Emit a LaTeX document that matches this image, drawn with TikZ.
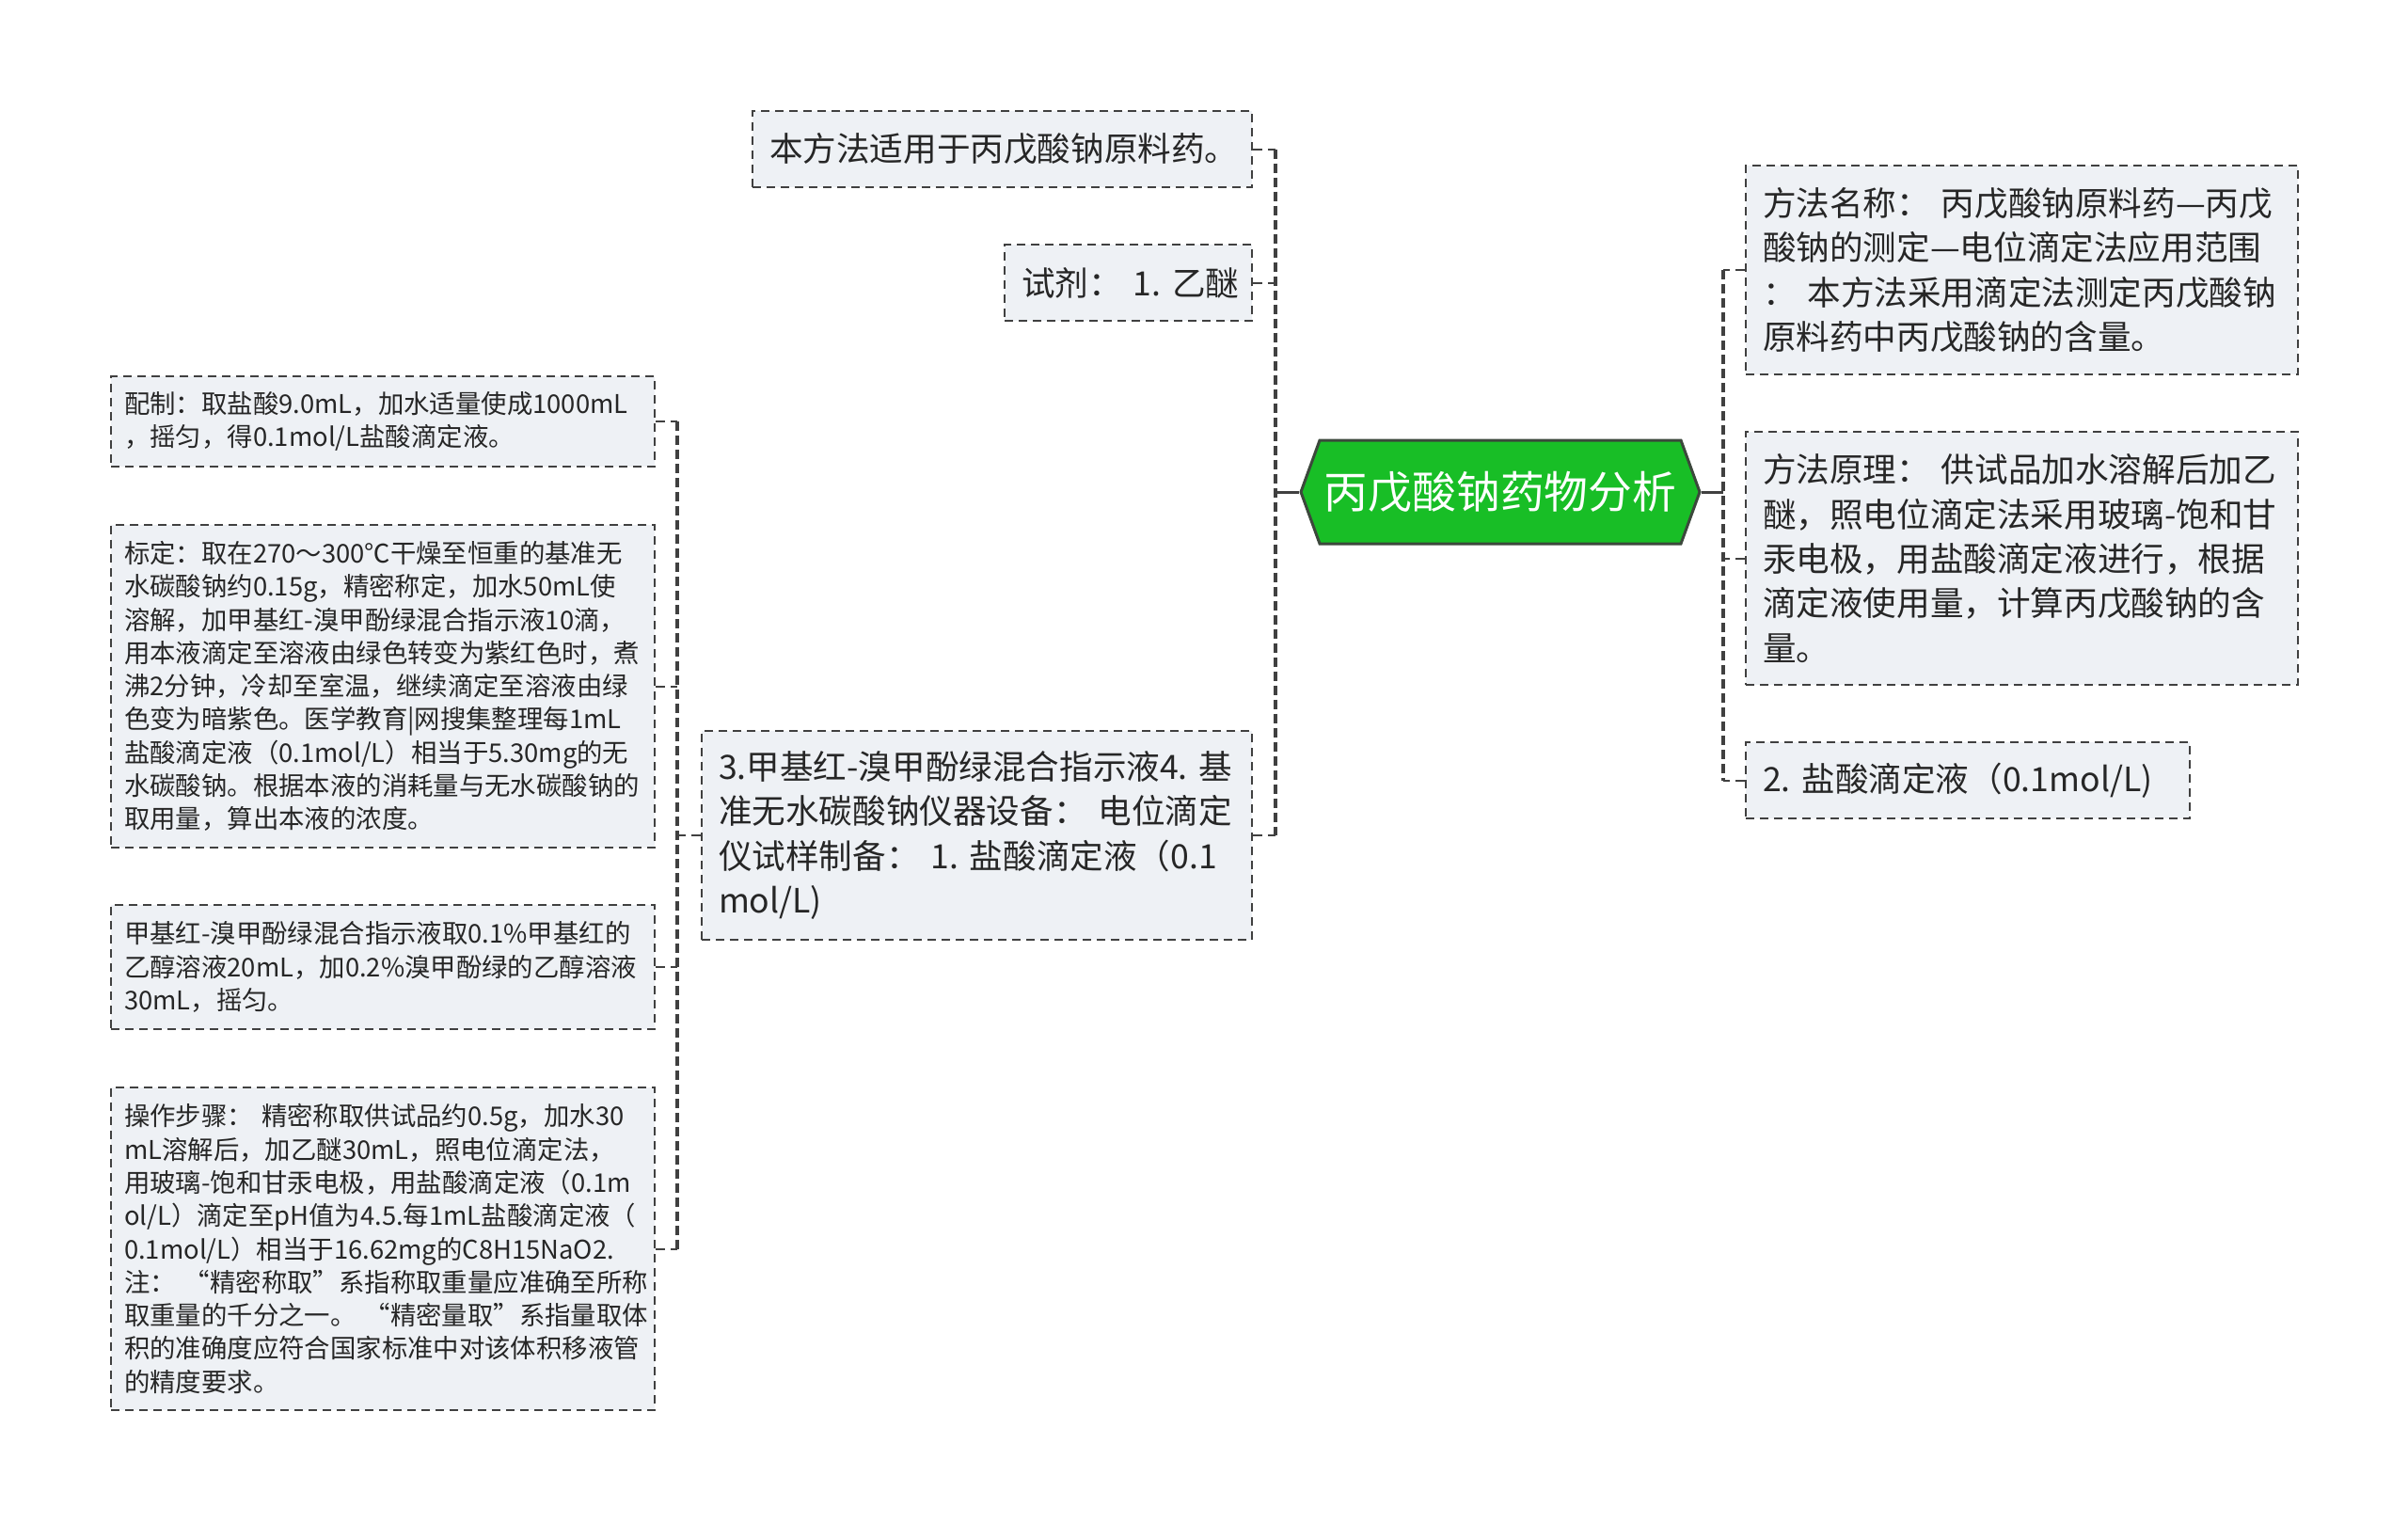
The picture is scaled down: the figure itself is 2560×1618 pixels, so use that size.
\documentclass[tikz,border=0pt]{standalone}
\usepackage{fontspec}
\setmainfont{Noto Sans CJK SC}
\usetikzlibrary{positioning, shapes.symbols}
\definecolor{hubgreen}{RGB}{24,190,38}
\definecolor{hubedge}{RGB}{60,72,60}
\definecolor{boxfill}{RGB}{238,241,245}
\definecolor{linegray}{RGB}{64,64,64}
\tikzset{
hub/.style={shape=signal, signal to=east and west, signal pointer angle=140, fill=hubgreen, draw=hubedge, line width=1.5pt, text=white, font=\fontsize{23.4}{28}\selectfont, minimum width=212pt, minimum height=55pt, inner sep=0pt}, % the green centre
topic/.style={draw=linegray, dash pattern=on 4.5pt off 3pt, line width=0.9pt, fill=boxfill, align=left, inner xsep=9pt, inner ysep=0pt, text=black!85, font=\fontsize{17.8}{23.7}\selectfont}, % first level boxes
detail/.style={topic, inner xsep=7pt, font=\fontsize{13.7}{17.65}\selectfont}, % second level boxes
spine/.style={linegray, line width=2pt, dash pattern=on 5pt off 2.5pt}, % vertical bars
twig/.style={linegray, line width=1pt, dash pattern=on 5pt off 3pt}, % short branches
stem/.style={linegray, line width=1.5pt}, % hub to bar
}
\begin{document}
\begin{tikzpicture}[x=0.5pt, y=-0.5pt]
\useasboundingbox (0,0) rectangle (2560,1618);

\node[hub] (hub) at (1595,523) {丙戊酸钠药物分析};

% left side
\node[topic, text width=247.5pt, minimum height=40.5pt] (scope) at (1065.5,158.5) {本方法适用于丙戊酸钠原料药。};
\node[topic, text width=113.5pt, minimum height=40.5pt] (reagent) at (1199.5,300.5) {试剂：~1.~乙醚};
\node[topic, text width=274.5pt, minimum height=111pt] (prep) at (1038.5,888) {3.甲基红-溴甲酚绿混合指示液4.~基\\准无水碳酸钠仪器设备：~电位滴定\\仪试样制备：~1.~盐酸滴定液（0.1\\mol/L)};

% right side
\node[topic, text width=275.5pt, minimum height=111pt] (method) at (2149.5,287) {方法名称：~丙戊酸钠原料药—丙戊\\酸钠的测定—电位滴定法应用范围\\：~本方法采用滴定法测定丙戊酸钠\\原料药中丙戊酸钠的含量。};
\node[topic, text width=275.5pt, minimum height=134.5pt] (principle) at (2149.5,593.5) {方法原理：~供试品加水溶解后加乙\\醚，照电位滴定法采用玻璃-饱和甘\\汞电极，用盐酸滴定液进行，根据\\滴定液使用量，计算丙戊酸钠的含\\量。};
\node[topic, text width=218pt, minimum height=40.5pt] (titrant) at (2092,829.5) {2.~盐酸滴定液（0.1mol/L)};

% children of prep
\node[detail, text width=275pt, minimum height=48pt] (make) at (407,448) {配制：取盐酸9.0mL，加水适量使成1000mL\\，摇匀，得0.1mol/L盐酸滴定液。};
\node[detail, text width=275pt, minimum height=171.5pt] (calib) at (407,729.5) {标定：取在270～300℃干燥至恒重的基准无\\水碳酸钠约0.15g，精密称定，加水50mL使\\溶解，加甲基红-溴甲酚绿混合指示液10滴，\\用本液滴定至溶液由绿色转变为紫红色时，煮\\沸2分钟，冷却至室温，继续滴定至溶液由绿\\色变为暗紫色。医学教育|网搜集整理每1mL\\盐酸滴定液（0.1mol/L）相当于5.30mg的无\\水碳酸钠。根据本液的消耗量与无水碳酸钠的\\取用量，算出本液的浓度。};
\node[detail, text width=275pt, minimum height=66pt] (mix) at (407,1028) {甲基红-溴甲酚绿混合指示液取0.1\%甲基红的\\乙醇溶液20mL，加0.2\%溴甲酚绿的乙醇溶液\\30mL，摇匀。};
\node[detail, text width=275pt, minimum height=171.5pt] (assay) at (407,1327.5) {操作步骤：~精密称取供试品约0.5g，加水30\\mL溶解后，加乙醚30mL，照电位滴定法，\\用玻璃-饱和甘汞电极，用盐酸滴定液（0.1m\\ol/L）滴定至pH值为4.5.每1mL盐酸滴定液（\\0.1mol/L）相当于16.62mg的C8H15NaO2.\\注：~“精密称取”系指称取重量应准确至所称\\取重量的千分之一。~“精密量取”系指量取体\\积的准确度应符合国家标准中对该体积移液管\\的精度要求。};

% connectors
\coordinate (lbar) at (1356,523);
\coordinate (rbar) at (1832,523);
\coordinate (cbar) at (720,888);

\draw[stem] (hub.west) -- (lbar);
\draw[spine] (lbar |- scope.east) -- (lbar |- prep.east);
\foreach \n in {scope, reagent, prep}
  \draw[twig] (\n.east) -- (lbar |- \n.east);

\draw[stem] (hub.east) -- (rbar);
\draw[spine] (rbar |- method.west) -- (rbar |- titrant.west);
\foreach \n in {method, principle, titrant}
  \draw[twig] (\n.west) -- (rbar |- \n.west);

\draw[twig] (prep.west) -- (cbar);
\draw[spine] (cbar |- make.east) -- (cbar |- assay.east);
\foreach \n in {make, calib, mix, assay}
  \draw[twig] (\n.east) -- (cbar |- \n.east);
\end{tikzpicture}
\end{document}
